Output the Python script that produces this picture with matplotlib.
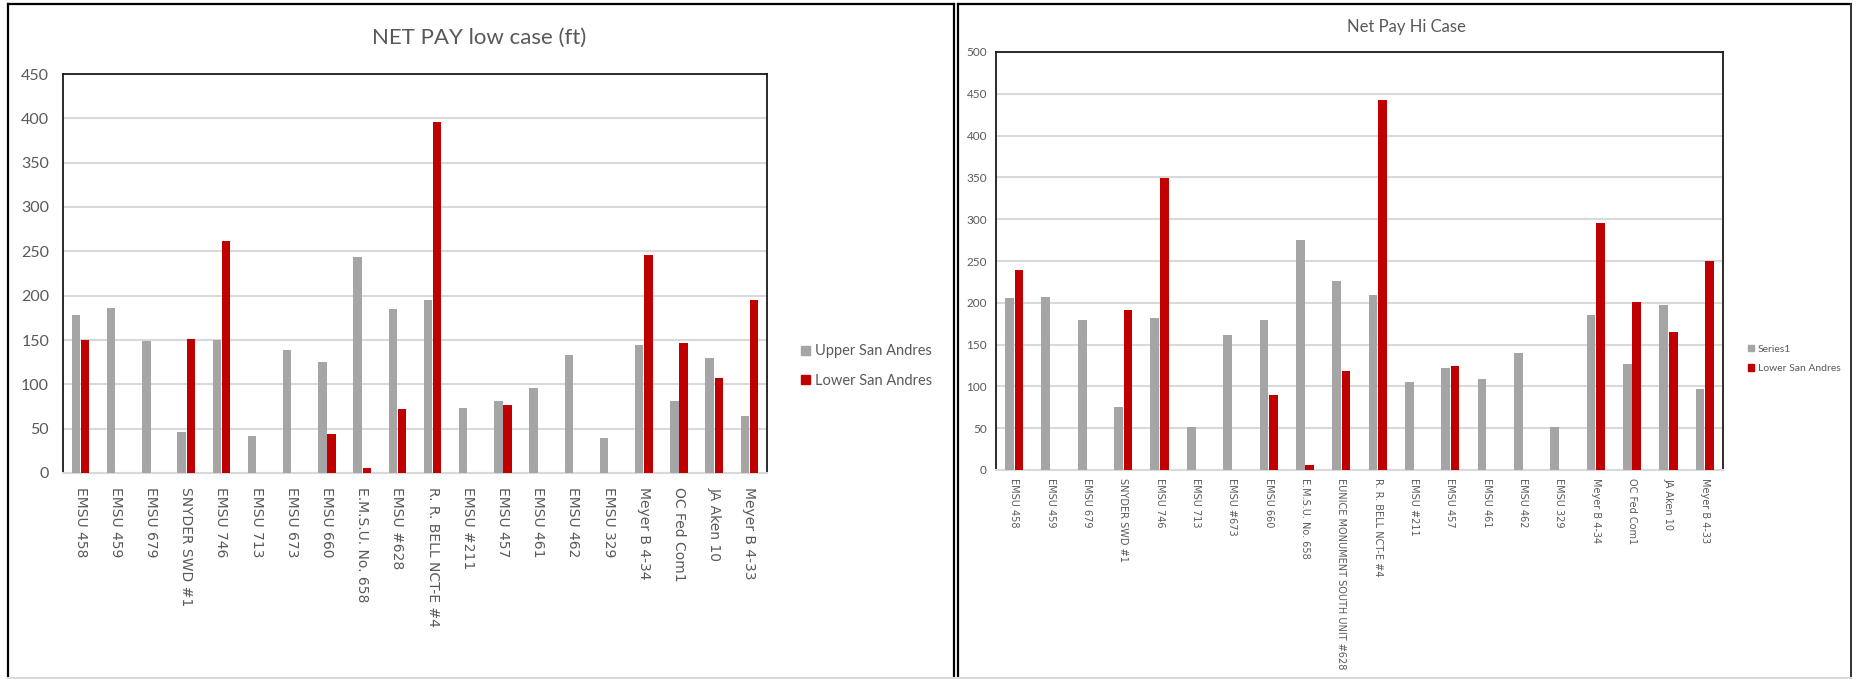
import matplotlib
matplotlib.use("Agg")
import matplotlib.pyplot as plt
from matplotlib.patches import Patch
from matplotlib.lines import Line2D
import numpy as np

# ---------------- data ----------------
low_wells = ["EMSU 458", "EMSU 459", "EMSU 679", "SNYDER SWD #1", "EMSU 746", "EMSU 713",
             "EMSU 673", "EMSU 660", "E.M.S.U. No. 658", "EMSU #628", "R. R. BELL NCT-E #4",
             "EMSU #211", "EMSU 457", "EMSU 461", "EMSU 462", "EMSU 329", "Meyer B 4-34",
             "OC Fed Com1", "JA Aken 10", "Meyer B 4-33"]
low_upper = [178, 186, 149, 46, 150, 42, 139, 125, 244, 185, 195, 73, 81, 96, 133, 39, 144, 81, 130, 64]
low_lower = [150, 0, 0, 151, 262, 0, 0, 44, 6, 72, 396, 0, 77, 0, 0, 0, 246, 147, 107, 195]

hi_wells = ["EMSU 458", "EMSU 459", "EMSU 679", "SNYDER SWD #1", "EMSU 746", "EMSU 713",
            "EMSU #673", "EMSU 660", "E.M.S.U. No. 658", "EUNICE MONUMENT SOUTH UNIT #628",
            "R. R. BELL NCT-E #4", "EMSU #211", "EMSU 457", "EMSU 461", "EMSU 462", "EMSU 329",
            "Meyer B 4-34", "OC Fed Com1", "JA Aken 10", "Meyer B 4-33"]
hi_series1 = [206, 207, 180, 75, 182, 51, 161, 180, 275, 226, 209, 105, 122, 109, 140, 52, 185, 127, 197, 97]
hi_lower = [239, 0, 0, 191, 349, 0, 0, 90, 6, 118, 442, 0, 125, 0, 0, 0, 296, 201, 165, 250]

low_title = "NET PAY low case (ft)"
hi_title = "Net Pay Hi Case"
low_names = ["Upper San Andres", "Lower San Andres"]
hi_names = ["Series1", "Lower San Andres"]

GRAY = "#A5A5A5"
RED = "#C00000"
GRID = "#D9D9D9"
TXT = "#595959"
FONT = ["Lato", "DejaVu Sans"]

W, H = 1853, 679
fig = plt.figure(figsize=(W / 100, H / 100), dpi=100)
fig.patch.set_facecolor("white")


def fx(px):
    return px / W


def fy(py):
    return 1 - py / H


def panel(ax, cats, s1, s2, ymax, xfs, yfs, xpad, ypad):
    x = np.arange(len(cats))
    bw = 0.24
    ax.bar(x - 0.13, s1, width=bw, color=GRAY, zorder=3)
    ax.bar(x + 0.13, s2, width=bw, color=RED, zorder=3)
    ax.set_xlim(-0.5, len(cats) - 0.5)
    ax.set_ylim(0, ymax)
    ax.set_yticks(np.arange(0, ymax + 1, 50))
    ax.yaxis.grid(True, color=GRID, linewidth=1.5, zorder=0)
    ax.set_axisbelow(True)
    ax.set_xticks(x)
    ax.set_xticklabels(cats, rotation=270)
    for lab in ax.get_xticklabels():
        lab.set_fontfamily("DejaVu Sans")
        lab.set_fontsize(xfs)
        lab.set_color(TXT)
    for lab in ax.get_yticklabels():
        lab.set_fontfamily(FONT)
        lab.set_fontsize(yfs)
        lab.set_color(TXT)
    ax.tick_params(axis="both", length=0)
    ax.tick_params(axis="x", pad=xpad)
    ax.tick_params(axis="y", pad=ypad)
    for side in ["top", "left", "right"]:
        ax.spines[side].set_color("#1a1a1a")
        ax.spines[side].set_linewidth(1.3)
    ax.spines["bottom"].set_color(GRID)
    ax.spines["bottom"].set_linewidth(1.5)


# left panel
ax1 = fig.add_axes([fx(63), fy(473), fx(767) - fx(63), fy(74) - fy(473)])
panel(ax1, low_wells, low_upper, low_lower, 450, 10, 11.5, 10, 10)
fig.text(fx(479), fy(38), low_title, ha="center", va="center", fontsize=16,
         color=TXT, family=FONT)
leg1 = fig.legend([Patch(color=GRAY), Patch(color=RED)], low_names, loc="center left",
                  bbox_to_anchor=(fx(794), fy(366)), frameon=False, borderpad=0,
                  handlelength=0.6, handleheight=0.6, handletextpad=0.35,
                  labelspacing=1.05, prop={"family": FONT, "size": 10.5})
for t in leg1.get_texts():
    t.set_color(TXT)

# right panel
ax2 = fig.add_axes([fx(996), fy(470), fx(1723) - fx(996), fy(52) - fy(470)])
panel(ax2, hi_wells, hi_series1, hi_lower, 500, 7, 8.5, 6, 6.5)
fig.text(fx(1406), fy(27), hi_title, ha="center", va="center", fontsize=12,
         color=TXT, family=FONT)
leg2 = fig.legend([Patch(color=GRAY), Patch(color=RED)], hi_names, loc="center left",
                  bbox_to_anchor=(fx(1743), fy(359)), frameon=False, borderpad=0,
                  handlelength=0.6, handleheight=0.6, handletextpad=0.35,
                  labelspacing=1.05, prop={"family": FONT, "size": 7.5})
for t in leg2.get_texts():
    t.set_color(TXT)

# panel borders
def line(x0, y0, x1, y1, color="black", lw=1.6):
    fig.add_artist(Line2D([fx(x0), fx(x1)], [fy(y0), fy(y1)], color=color,
                          linewidth=lw, transform=fig.transFigure))

line(8, 4, 954, 4)
line(8, 4, 8, 678)
line(954, 4, 954, 678)
line(8, 678, 954, 678, color=GRID, lw=1.5)
line(958, 4, 1851, 4)
line(958, 4, 958, 678)
line(1851, 4, 1851, 678, color="#333333", lw=1.4)
line(958, 678, 1851, 678, color=GRID, lw=1.5)

fig.savefig("out.png", dpi=100, facecolor="white")
